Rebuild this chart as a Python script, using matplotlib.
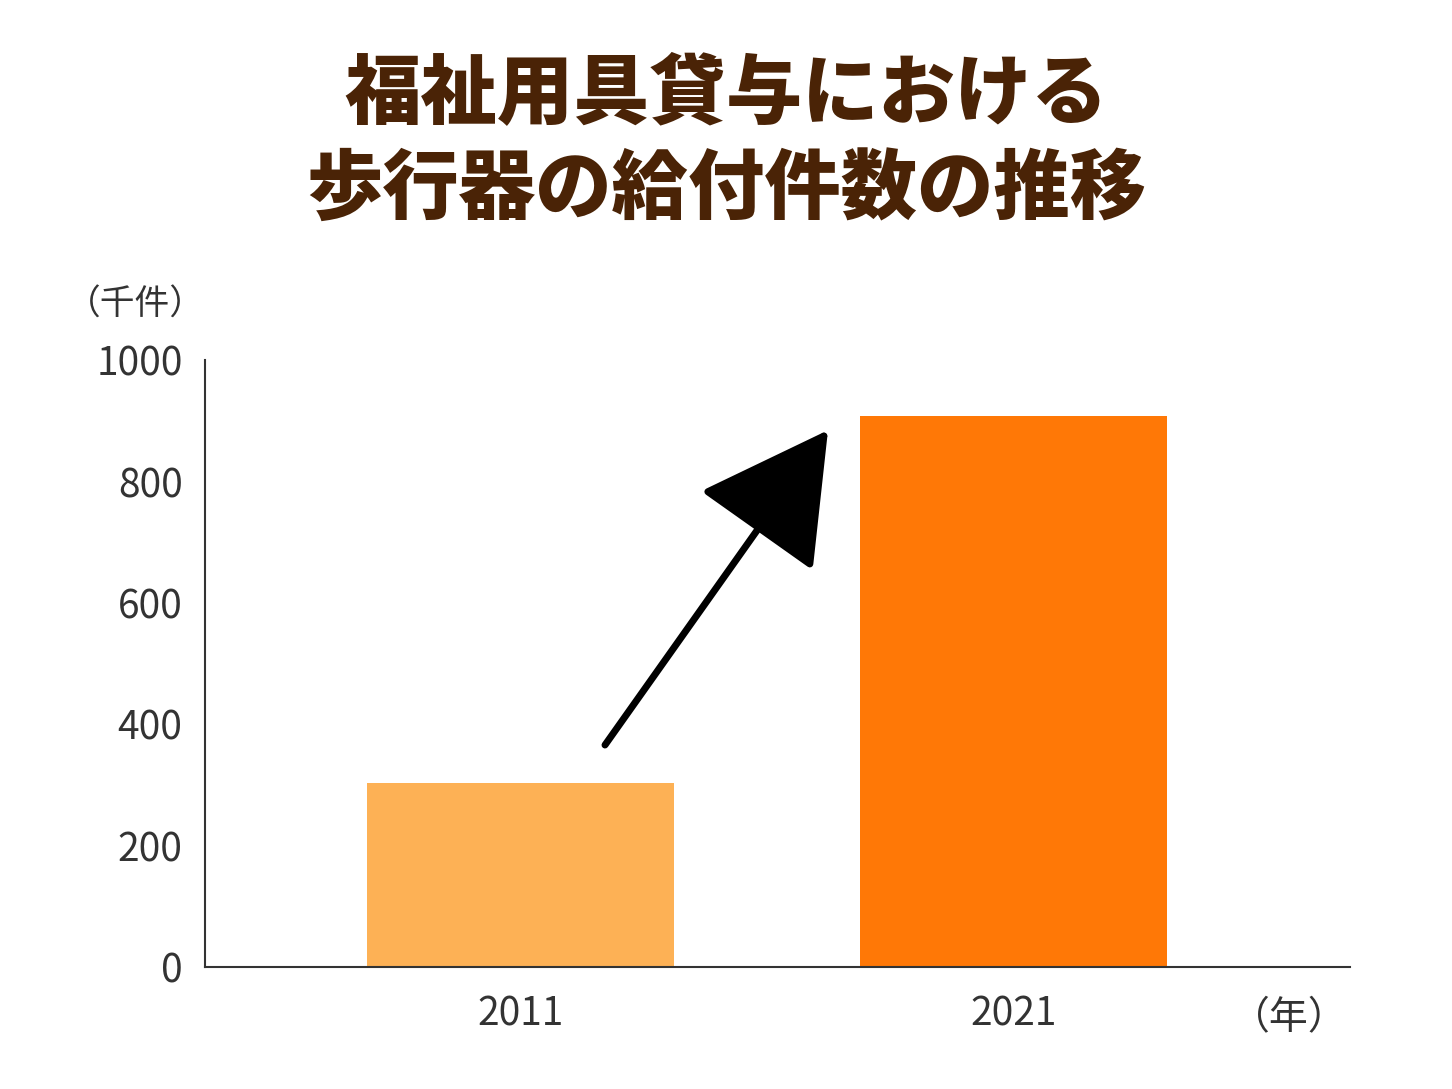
import matplotlib.pyplot as plt

plt.rcParams['font.family'] = ['Noto Sans CJK JP', 'DejaVu Sans']

years = ['2011', '2021']
counts = [303, 909]
bar_colors = ['#FDB155', '#FF7806']
title_color = '#4A2306'
text_color = '#333333'

fig = plt.figure(figsize=(14.52, 10.89), dpi=100)
ax = fig.add_axes([0.141, 0.112, 0.789, 0.557])

ax.bar(range(len(years)), counts, width=0.624, color=bar_colors)
ax.set_xlim(-0.642, 1.685)
ax.set_ylim(0, 1000)
ax.set_yticks([0, 200, 400, 600, 800, 1000])
ax.set_xticks(range(len(years)))
ax.set_xticklabels(years)
ax.tick_params(length=0, labelsize=28, colors=text_color, pad=16)
ax.tick_params(axis='x', pad=20)
for s in ['top', 'right']:
    ax.spines[s].set_visible(False)
for s in ['left', 'bottom']:
    ax.spines[s].set_color(text_color)
    ax.spines[s].set_linewidth(1.5)

ax.annotate('', xy=(0.624, 885), xytext=(0.171, 366),
            arrowprops=dict(arrowstyle='-|>,head_length=0.9,head_width=0.5',
                            mutation_scale=90, color='black', lw=5,
                            shrinkA=0, shrinkB=0))

fig.text(0.093, 0.72, '（千件）', fontsize=25, color=text_color, ha='center', va='center')
fig.text(0.888, 0.065, '（年）', fontsize=28, color=text_color, ha='center', va='center')

fig.text(0.5, 0.913, '福祉用具貸与における', fontsize=55, fontweight='black',
         color=title_color, ha='center', va='center')
fig.text(0.5, 0.826, '歩行器の給付件数の推移', fontsize=55, fontweight='black',
         color=title_color, ha='center', va='center')

fig.savefig('out.png', dpi=100)
